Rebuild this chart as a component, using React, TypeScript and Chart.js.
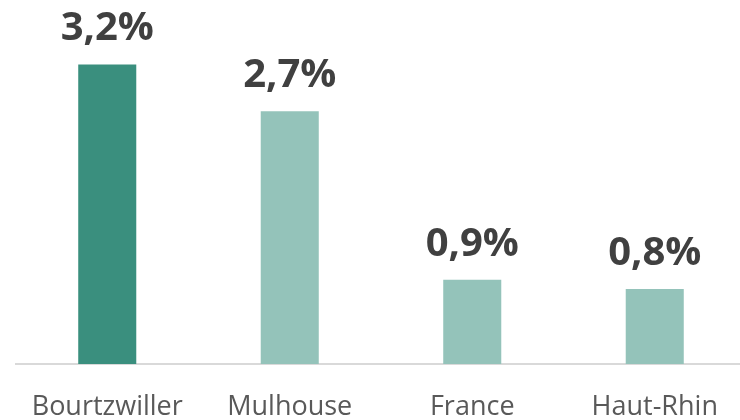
import React, { useEffect, useRef } from "react";
import { Chart, registerables } from "chart.js";

Chart.register(...registerables);

const categories = ["Bourtzwiller", "Mulhouse", "France", "Haut-Rhin"];
const values = [3.2, 2.7, 0.9, 0.8];
const barColors = ["#3a8f7e", "#94c3ba", "#94c3ba", "#94c3ba"];

const decorations = {
  id: "decorations",
  beforeDatasetsDraw(chart: any) {
    const ctx = chart.ctx;
    const { left, right, bottom } = chart.chartArea;
    ctx.save();
    ctx.strokeStyle = "#d9d9d9";
    ctx.lineWidth = 2;
    ctx.beginPath();
    ctx.moveTo(left - 1, bottom);
    ctx.lineTo(right, bottom);
    ctx.stroke();
    ctx.restore();
  },
  afterDatasetsDraw(chart: any) {
    const ctx = chart.ctx;
    const meta = chart.getDatasetMeta(0);
    const xScale = chart.scales.x;
    const bottom = chart.chartArea.bottom;
    ctx.save();
    ctx.textAlign = "center";
    ctx.textBaseline = "alphabetic";
    ctx.font = "bold 40px 'Open Sans'";
    ctx.fillStyle = "#404040";
    meta.data.forEach((bar: any, i: number) => {
      const txt = values[i].toFixed(1).replace(".", ",") + "%";
      ctx.fillText(txt, bar.x, bar.y - 24);
    });
    ctx.font = "27px 'Open Sans'";
    ctx.fillStyle = "#595959";
    categories.forEach((c, i) => {
      ctx.fillText(c, xScale.getPixelForValue(i), bottom + 51);
    });
    ctx.restore();
  },
};

export default function App() {
  const ref = useRef<HTMLCanvasElement>(null);
  useEffect(() => {
    if (!ref.current) return;
    const chart = new Chart(ref.current, {
      type: "bar",
      data: {
        labels: categories,
        datasets: [
          {
            data: values,
            backgroundColor: barColors,
            borderWidth: 0,
            barPercentage: 0.318,
            categoryPercentage: 1,
          },
        ],
      },
      options: {
        responsive: false,
        animation: false,
        layout: { padding: { left: 16, right: 14, top: 27, bottom: 56 } },
        plugins: { legend: { display: false }, tooltip: { enabled: false } },
        scales: {
          x: { display: false },
          y: { display: false, min: 0, max: 3.6 },
        },
      },
      plugins: [decorations],
    });
    return () => chart.destroy();
  }, []);
  return (
    <div style={{ position: "fixed", left: 0, top: 0, width: 740, height: 420, overflow: "hidden", background: "#fff" }}>
      <canvas ref={ref} width={760} height={420} style={{ display: "block" }} />
    </div>
  );
}
